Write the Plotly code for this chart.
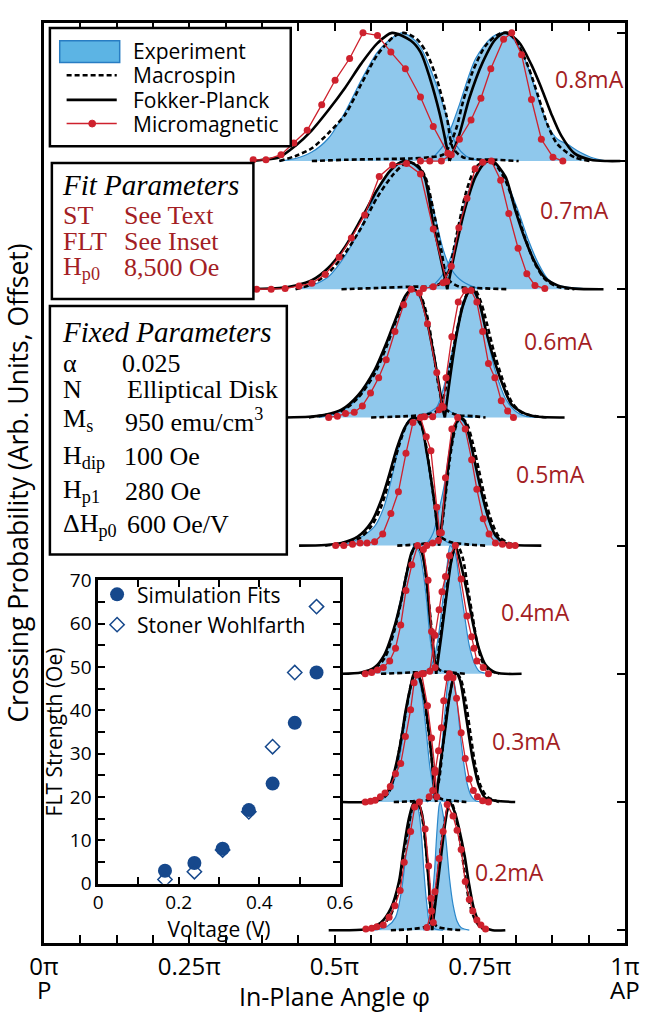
import plotly.graph_objects as go

# ---------------- DATA ----------------
currents = ["0.2mA", "0.3mA", "0.4mA", "0.5mA", "0.6mA", "0.7mA", "0.8mA"]
offsets = [0, 1, 2, 3, 4, 5, 6]

angle_ticks = [i / 16 for i in range(17)]
angle_labels = {0: "0π", 4: "0.25π", 8: "0.5π", 12: "0.75π", 16: "1π"}

# (angle in units of pi, normalized crossing probability)
# ---- 0.8 mA
exp_08_L = [(0.405,0),(0.433,0.02),(0.461,0.07),(0.490,0.18),(0.518,0.38),(0.546,0.63),(0.574,0.85),(0.602,0.97),(0.616,1.0),(0.631,0.97),(0.648,0.89),(0.664,0.73),(0.681,0.52),(0.698,0.27),(0.710,0.12),(0.726,0.04),(0.743,0.01),(0.772,0)]
exp_08_R = [(0.664,0),(0.687,0.12),(0.704,0.30),(0.715,0.44),(0.743,0.80),(0.772,0.97),(0.794,1.0),(0.817,0.90),(0.834,0.72),(0.851,0.48),(0.867,0.28),(0.884,0.17),(0.901,0.13),(0.918,0.08),(0.941,0.03),(0.969,0)]
ms_08_L = [(0.405,0),(0.433,0.04),(0.461,0.10),(0.490,0.22),(0.518,0.36),(0.546,0.60),(0.574,0.83),(0.602,0.97),(0.619,1.0),(0.642,0.95),(0.659,0.84),(0.676,0.64),(0.693,0.35),(0.704,0.10),(0.721,0.03),(0.743,0.015),(0.777,0.01),(0.817,0)]
ms_08_R = [(0.461,0),(0.518,0.01),(0.574,0.015),(0.631,0.02),(0.664,0.03),(0.687,0.05),(0.698,0.12),(0.710,0.26),(0.721,0.46),(0.738,0.70),(0.760,0.90),(0.783,0.99),(0.800,1.0),(0.817,0.90),(0.834,0.73),(0.851,0.50),(0.867,0.28),(0.884,0.13),(0.913,0.03),(0.941,0)]
fp_08_L = [(0.360,0),(0.377,0.01),(0.405,0.03),(0.433,0.12),(0.461,0.24),(0.490,0.40),(0.518,0.57),(0.546,0.76),(0.574,0.92),(0.599,1.0),(0.631,0.94),(0.648,0.85),(0.664,0.65),(0.681,0.37),(0.698,0.0)]
fp_08_R = [(0.698,0),(0.715,0.21),(0.732,0.49),(0.755,0.77),(0.777,0.95),(0.794,1.0),(0.817,0.93),(0.839,0.75),(0.856,0.57),(0.873,0.37),(0.890,0.20),(0.913,0.06),(0.941,0.01),(0.969,0),(0.992,0)]
mm_08_L = [(0.360,0.01),(0.382,0.01),(0.408,0.05),(0.430,0.14),(0.453,0.24),(0.478,0.44),(0.501,0.63),(0.526,0.80),(0.549,1.0),(0.574,0.98),(0.597,0.85),(0.622,0.72),(0.648,0.50),(0.670,0.27),(0.695,0.06)]
mm_08_R = [(0.648,0.0),(0.664,0.0),(0.684,0.0),(0.701,0.05),(0.715,0.17),(0.735,0.32),(0.752,0.49),(0.769,0.72),(0.791,0.95),(0.805,1.0),(0.822,0.83),(0.839,0.48),(0.856,0.17),(0.876,0.03),(0.893,0.0)]

# ---- 0.7 mA
exp_07_L = [(0.433,0),(0.461,0.03),(0.490,0.10),(0.518,0.26),(0.546,0.49),(0.574,0.77),(0.591,0.90),(0.608,0.98),(0.625,1.0),(0.642,0.95),(0.659,0.82),(0.673,0.57),(0.687,0.31),(0.698,0.18),(0.715,0.08),(0.738,0.02),(0.755,0)]
exp_07_R = [(0.664,0),(0.687,0.12),(0.704,0.30),(0.721,0.62),(0.738,0.85),(0.755,0.98),(0.766,1.0),(0.783,0.95),(0.800,0.80),(0.817,0.60),(0.834,0.38),(0.851,0.20),(0.867,0.08),(0.884,0.03),(0.913,0.01),(0.941,0)]
ms_07_L = [(0.433,0),(0.461,0.04),(0.490,0.13),(0.518,0.28),(0.546,0.48),(0.574,0.72),(0.602,0.90),(0.625,0.99),(0.642,0.97),(0.656,0.88),(0.670,0.62),(0.684,0.30),(0.695,0.08),(0.715,0.02),(0.743,0.01),(0.800,0)]
ms_07_R = [(0.512,0),(0.574,0.01),(0.631,0.02),(0.676,0.03),(0.693,0.10),(0.710,0.42),(0.726,0.75),(0.743,0.95),(0.760,1.0),(0.777,0.97),(0.794,0.85),(0.811,0.64),(0.828,0.40),(0.845,0.20),(0.862,0.08),(0.884,0.02),(0.913,0)]
fp_07_L = [(0.349,0),(0.405,0.01),(0.433,0.03),(0.461,0.07),(0.490,0.17),(0.518,0.33),(0.546,0.55),(0.574,0.78),(0.597,0.93),(0.619,1.0),(0.636,0.98),(0.653,0.90),(0.670,0.51),(0.687,0.15),(0.694,0)]
fp_07_R = [(0.694,0),(0.710,0.35),(0.726,0.65),(0.743,0.88),(0.760,0.99),(0.772,1.0),(0.794,0.88),(0.811,0.62),(0.828,0.39),(0.845,0.21),(0.862,0.09),(0.884,0.03),(0.913,0.005),(0.963,0)]
mm_07_L = [(0.366,0),(0.391,0),(0.415,0.005),(0.439,0.026),(0.461,0.046),(0.484,0.116),(0.508,0.25),(0.529,0.40),(0.552,0.58),(0.577,0.88),(0.600,0.97),(0.624,0.98),(0.648,0.90),(0.670,0.47),(0.693,0.06)]
mm_07_R = [(0.653,0.005),(0.670,0.02),(0.687,0.05),(0.701,0.18),(0.714,0.48),(0.728,0.71),(0.742,0.94),(0.755,0.99),(0.770,1.0),(0.786,0.85),(0.800,0.59),(0.816,0.32),(0.831,0.12),(0.845,0.03),(0.862,0.005)]

# ---- 0.6 mA
exp_06_L = [(0.473,0),(0.501,0.03),(0.523,0.08),(0.546,0.18),(0.569,0.35),(0.585,0.52),(0.602,0.72),(0.619,0.90),(0.631,1.0),(0.642,0.97),(0.653,0.86),(0.664,0.66),(0.676,0.38),(0.684,0.15),(0.693,0.07),(0.710,0.02),(0.738,0)]
exp_06_R = [(0.648,0),(0.659,0.03),(0.676,0.08),(0.687,0.22),(0.698,0.42),(0.710,0.68),(0.721,0.90),(0.732,1.0),(0.743,0.95),(0.755,0.78),(0.766,0.56),(0.777,0.36),(0.794,0.15),(0.811,0.05),(0.828,0.01),(0.851,0)]
ms_06_L = [(0.456,0),(0.512,0.05),(0.540,0.15),(0.569,0.34),(0.591,0.57),(0.608,0.78),(0.625,0.96),(0.636,1.0),(0.648,0.95),(0.659,0.80),(0.670,0.52),(0.681,0.20),(0.690,0.07),(0.710,0.02),(0.738,0.01),(0.760,0)]
ms_06_R = [(0.563,0),(0.625,0.01),(0.653,0.02),(0.676,0.05),(0.687,0.15),(0.698,0.38),(0.710,0.66),(0.721,0.88),(0.732,0.99),(0.741,1.0),(0.752,0.90),(0.763,0.72),(0.774,0.52),(0.789,0.30),(0.805,0.12),(0.822,0.04),(0.845,0.01),(0.868,0)]
fp_06_L = [(0.416,0),(0.456,0.005),(0.484,0.02),(0.512,0.06),(0.540,0.17),(0.569,0.37),(0.591,0.60),(0.608,0.80),(0.622,0.95),(0.633,1.0),(0.645,0.97),(0.656,0.82),(0.667,0.58),(0.679,0.28),(0.687,0.05),(0.690,0)]
fp_06_R = [(0.690,0),(0.698,0.28),(0.710,0.64),(0.721,0.87),(0.732,0.99),(0.738,1.0),(0.749,0.90),(0.760,0.69),(0.772,0.49),(0.789,0.26),(0.805,0.10),(0.828,0.03),(0.851,0.005),(0.896,0)]
mm_06_L = [(0.490,0.0),(0.505,0.01),(0.519,0.03),(0.534,0.04),(0.548,0.09),(0.562,0.19),(0.576,0.31),(0.589,0.45),(0.604,0.67),(0.619,0.88),(0.632,1.0),(0.646,0.97),(0.660,0.73),(0.676,0.35),(0.685,0.09)]
mm_06_R = [(0.655,0.005),(0.669,0.005),(0.680,0.06),(0.687,0.08),(0.692,0.31),(0.702,0.63),(0.713,0.90),(0.725,0.99),(0.735,0.99),(0.745,0.90),(0.755,0.67),(0.765,0.42),(0.776,0.31),(0.787,0.13),(0.798,0.05),(0.808,0.0)]

# ---- 0.5 mA
exp_05_L = [(0.512,0),(0.540,0.05),(0.569,0.15),(0.585,0.30),(0.597,0.50),(0.608,0.72),(0.619,0.90),(0.628,0.98),(0.636,1.0),(0.648,0.96),(0.656,0.80),(0.664,0.55),(0.673,0.30),(0.681,0.10),(0.693,0.03),(0.715,0)]
exp_05_R = [(0.648,0),(0.659,0.02),(0.670,0.10),(0.681,0.30),(0.690,0.50),(0.698,0.75),(0.707,0.93),(0.713,1.0),(0.724,0.95),(0.735,0.78),(0.746,0.55),(0.757,0.33),(0.769,0.15),(0.780,0.05),(0.794,0.01),(0.817,0)]
ms_05_L = [(0.484,0),(0.540,0.05),(0.563,0.15),(0.580,0.30),(0.597,0.55),(0.611,0.78),(0.625,0.95),(0.637,1.0),(0.650,0.93),(0.662,0.65),(0.673,0.30),(0.681,0.08),(0.698,0.03),(0.727,0.01),(0.760,0)]
ms_05_R = [(0.608,0),(0.642,0.01),(0.670,0.03),(0.681,0.08),(0.690,0.35),(0.698,0.66),(0.707,0.90),(0.716,1.0),(0.727,0.96),(0.738,0.80),(0.749,0.58),(0.760,0.35),(0.772,0.17),(0.783,0.07),(0.800,0.02),(0.817,0)]
fp_05_L = [(0.439,0),(0.484,0.005),(0.512,0.02),(0.540,0.07),(0.563,0.18),(0.580,0.35),(0.594,0.55),(0.608,0.77),(0.622,0.93),(0.636,1.0),(0.648,0.96),(0.659,0.72),(0.670,0.40),(0.679,0.05),(0.680,0)]
fp_05_R = [(0.680,0),(0.690,0.38),(0.698,0.70),(0.707,0.92),(0.715,1.0),(0.724,0.97),(0.732,0.85),(0.743,0.62),(0.755,0.38),(0.766,0.20),(0.777,0.08),(0.794,0.02),(0.811,0.005),(0.856,0)]
mm_05_L = [(0.502,0),(0.516,0),(0.531,0.01),(0.544,0.02),(0.556,0.02),(0.569,0.03),(0.583,0.09),(0.597,0.25),(0.610,0.42),(0.623,0.72),(0.635,0.96),(0.648,1.0),(0.658,0.85),(0.666,0.74),(0.676,0.30),(0.681,0.10)]
mm_05_R = [(0.659,0.0),(0.669,0.02),(0.679,0.04),(0.684,0.10),(0.691,0.53),(0.702,0.91),(0.712,1.0),(0.725,0.91),(0.736,0.67),(0.745,0.44),(0.756,0.21),(0.766,0.09),(0.777,0.02),(0.789,0.01),(0.801,0.0),(0.811,0.0)]

# ---- 0.4 mA
exp_04_L = [(0.546,0),(0.569,0.05),(0.586,0.15),(0.600,0.32),(0.611,0.52),(0.622,0.75),(0.631,0.92),(0.637,1.0),(0.646,0.95),(0.653,0.78),(0.659,0.55),(0.664,0.30),(0.670,0.12),(0.679,0.04),(0.693,0.01),(0.715,0)]
exp_04_R = [(0.650,0),(0.659,0.02),(0.670,0.10),(0.679,0.30),(0.687,0.60),(0.694,0.85),(0.699,1.0),(0.707,0.95),(0.715,0.72),(0.724,0.45),(0.732,0.22),(0.741,0.08),(0.749,0.02),(0.766,0)]
ms_04_L = [(0.546,0),(0.569,0.04),(0.586,0.12),(0.602,0.32),(0.614,0.55),(0.625,0.80),(0.635,0.96),(0.643,1.0),(0.652,0.93),(0.659,0.70),(0.666,0.40),(0.673,0.10),(0.681,0.03),(0.704,0.01),(0.727,0)]
ms_04_R = [(0.580,0),(0.631,0.01),(0.659,0.02),(0.673,0.05),(0.681,0.25),(0.690,0.55),(0.698,0.82),(0.707,0.98),(0.712,1.0),(0.721,0.90),(0.729,0.68),(0.738,0.44),(0.746,0.23),(0.755,0.09),(0.766,0.03),(0.783,0)]
fp_04_L = [(0.512,0),(0.546,0.01),(0.569,0.05),(0.586,0.15),(0.602,0.35),(0.614,0.56),(0.625,0.80),(0.633,0.95),(0.642,1.0),(0.650,0.95),(0.658,0.75),(0.664,0.45),(0.670,0.20),(0.675,0)]
fp_04_R = [(0.675,0),(0.684,0.30),(0.693,0.62),(0.701,0.88),(0.708,1.0),(0.715,0.90),(0.727,0.66),(0.738,0.40),(0.749,0.19),(0.760,0.07),(0.777,0.01),(0.822,0)]
mm_04_L = [(0.553,0),(0.564,0.01),(0.574,0.03),(0.584,0.05),(0.595,0.10),(0.605,0.20),(0.614,0.38),(0.623,0.65),(0.633,0.85),(0.643,1.0),(0.653,0.97),(0.661,0.73),(0.667,0.33),(0.673,0.05)]
mm_04_R = [(0.653,0.0),(0.664,0.02),(0.673,0.30),(0.680,0.50),(0.685,0.64),(0.691,0.76),(0.698,0.92),(0.708,1.0),(0.718,0.74),(0.728,0.45),(0.736,0.29),(0.740,0.20),(0.745,0.10),(0.756,0.05),(0.765,0.0)]

# ---- 0.3 mA
exp_03_L = [(0.569,0),(0.591,0.05),(0.605,0.20),(0.614,0.40),(0.622,0.65),(0.629,0.87),(0.635,0.98),(0.640,1.0),(0.647,0.93),(0.653,0.75),(0.659,0.50),(0.664,0.28),(0.670,0.12),(0.676,0.04),(0.687,0.01),(0.704,0)]
exp_03_R = [(0.659,0),(0.670,0.05),(0.679,0.20),(0.685,0.45),(0.691,0.75),(0.695,0.93),(0.699,1.0),(0.705,0.95),(0.711,0.78),(0.716,0.55),(0.722,0.32),(0.728,0.15),(0.735,0.05),(0.743,0.01),(0.755,0)]
ms_03_L = [(0.546,0),(0.580,0.02),(0.594,0.08),(0.605,0.25),(0.615,0.50),(0.624,0.73),(0.632,0.92),(0.639,1.0),(0.646,0.97),(0.654,0.82),(0.661,0.58),(0.667,0.35),(0.673,0.10),(0.681,0.03),(0.704,0.01),(0.727,0)]
ms_03_R = [(0.602,0),(0.647,0.01),(0.670,0.03),(0.679,0.15),(0.687,0.45),(0.695,0.75),(0.704,0.95),(0.711,1.0),(0.718,0.95),(0.727,0.75),(0.735,0.50),(0.743,0.27),(0.752,0.12),(0.763,0.04),(0.783,0)]
fp_03_L = [(0.512,0),(0.569,0.01),(0.591,0.08),(0.602,0.22),(0.614,0.47),(0.622,0.70),(0.631,0.90),(0.637,1.0),(0.645,0.98),(0.653,0.85),(0.661,0.60),(0.667,0.35),(0.673,0.05),(0.675,0)]
fp_03_R = [(0.675,0),(0.681,0.25),(0.690,0.55),(0.698,0.82),(0.705,0.97),(0.710,1.0),(0.716,0.95),(0.727,0.65),(0.738,0.33),(0.749,0.12),(0.760,0.03),(0.777,0.01),(0.811,0)]
mm_03_L = [(0.553,0),(0.562,0.005),(0.570,0.013),(0.579,0.04),(0.587,0.07),(0.596,0.12),(0.605,0.22),(0.614,0.30),(0.622,0.51),(0.631,0.72),(0.637,0.93),(0.642,0.99),(0.650,1.0),(0.660,0.75),(0.667,0.50),(0.673,0.25),(0.676,0.04)]
mm_03_R = [(0.663,0.04),(0.669,0.09),(0.673,0.23),(0.679,0.40),(0.684,0.58),(0.688,0.79),(0.694,0.97),(0.698,1.0),(0.704,0.97),(0.710,0.81),(0.718,0.54),(0.725,0.34),(0.732,0.18),(0.739,0.09),(0.746,0.04),(0.755,0.01),(0.765,0.0)]

# ---- 0.2 mA
exp_02_L = [(0.569,0),(0.591,0.03),(0.605,0.10),(0.615,0.30),(0.622,0.55),(0.629,0.80),(0.635,0.95),(0.641,1.0),(0.646,0.90),(0.650,0.72),(0.654,0.45),(0.659,0.20),(0.664,0.05),(0.673,0.01),(0.687,0)]
exp_02_R = [(0.653,0),(0.662,0.05),(0.667,0.20),(0.672,0.45),(0.676,0.75),(0.680,0.97),(0.682,1.0),(0.687,0.90),(0.693,0.65),(0.698,0.40),(0.704,0.20),(0.711,0.07),(0.718,0.02),(0.732,0)]
ms_02_L = [(0.552,0),(0.580,0.03),(0.597,0.12),(0.611,0.35),(0.620,0.62),(0.629,0.85),(0.636,0.98),(0.643,1.0),(0.650,0.90),(0.657,0.66),(0.663,0.35),(0.667,0.10),(0.676,0.03),(0.693,0.01),(0.721,0)]
ms_02_R = [(0.597,0),(0.636,0.01),(0.659,0.03),(0.668,0.08),(0.675,0.30),(0.682,0.60),(0.690,0.85),(0.697,0.98),(0.701,1.0),(0.708,0.90),(0.716,0.70),(0.724,0.45),(0.732,0.22),(0.741,0.09),(0.752,0.02),(0.766,0)]
fp_02_L = [(0.490,0),(0.552,0.005),(0.563,0.02),(0.580,0.06),(0.597,0.17),(0.611,0.38),(0.619,0.63),(0.628,0.87),(0.636,0.99),(0.642,1.0),(0.650,0.92),(0.656,0.71),(0.662,0.38),(0.666,0.12),(0.668,0)]
fp_02_R = [(0.668,0),(0.676,0.30),(0.684,0.60),(0.691,0.85),(0.698,1.0),(0.707,0.92),(0.715,0.78),(0.724,0.58),(0.732,0.35),(0.741,0.15),(0.752,0.04),(0.772,0),(0.794,0)]
mm_02_L = [(0.554,0.01),(0.564,0.015),(0.573,0.026),(0.584,0.04),(0.594,0.10),(0.604,0.19),(0.613,0.31),(0.620,0.53),(0.631,0.77),(0.638,0.96),(0.646,1.0),(0.656,0.79),(0.662,0.50),(0.666,0.25),(0.670,0.06)]
mm_02_R = [(0.659,0.02),(0.667,0.15),(0.673,0.30),(0.680,0.56),(0.687,0.77),(0.694,0.98),(0.704,0.89),(0.711,0.78),(0.718,0.63),(0.725,0.38),(0.732,0.24),(0.738,0.15),(0.745,0.08),(0.752,0.04),(0.760,0.01)]

# ---- inset: FLT strength vs voltage
voltage = [0.166, 0.239, 0.309, 0.374, 0.433, 0.488, 0.542]
flt_sim = [3.0, 4.8, 8.1, 17.0, 23.1, 37.1, 48.7]
flt_sw = [1.0, 2.8, 7.8, 16.6, 31.6, 48.7, 63.9]
inset_xticks = [0, 0.1, 0.2, 0.3, 0.4, 0.5, 0.6]
inset_yticks = list(range(0, 75, 5))

fit_rows = [("ST", "See Text"), ("FLT", "See Inset"), ("H<sub>p0</sub>", "8,500 Oe")]
fixed_rows = [("α", "0.025"), ("N", "Elliptical Disk"), ("M<sub>s</sub>", "950 emu/cm<sup>3</sup>"),
              ("H<sub>dip</sub>", "100 Oe"), ("H<sub>p1</sub>", "280 Oe"), ("ΔH<sub>p0</sub>", "600 Oe/V")]

levels = {
    "0.2mA": (exp_02_L, exp_02_R, ms_02_L, ms_02_R, fp_02_L, fp_02_R, mm_02_L, mm_02_R),
    "0.3mA": (exp_03_L, exp_03_R, ms_03_L, ms_03_R, fp_03_L, fp_03_R, mm_03_L, mm_03_R),
    "0.4mA": (exp_04_L, exp_04_R, ms_04_L, ms_04_R, fp_04_L, fp_04_R, mm_04_L, mm_04_R),
    "0.5mA": (exp_05_L, exp_05_R, ms_05_L, ms_05_R, fp_05_L, fp_05_R, mm_05_L, mm_05_R),
    "0.6mA": (exp_06_L, exp_06_R, ms_06_L, ms_06_R, fp_06_L, fp_06_R, mm_06_L, mm_06_R),
    "0.7mA": (exp_07_L, exp_07_R, ms_07_L, ms_07_R, fp_07_L, fp_07_R, mm_07_L, mm_07_R),
    "0.8mA": (exp_08_L, exp_08_R, ms_08_L, ms_08_R, fp_08_L, fp_08_R, mm_08_L, mm_08_R),
}

# ---------------- STYLE / LAYOUT HELPERS ----------------
W, H = 650, 1013
ML, MR, MT, MB = 44, 15, 10, 70
PW, PH = W - ML - MR, H - MT - MB
Y_RANGE = [-0.1, 7.077]


def px(x):
    return (x - ML) / PW


def py(y):
    return (H - MB - y) / PH


EXP_FILL = "rgb(143,200,236)"
EXP_LINE = "rgb(43,135,202)"
MM_RED = "rgb(206,33,45)"
TXT_RED = "rgb(163,30,36)"
NAVY = "rgb(22,72,140)"
SANS = "Open Sans, sans-serif"
SERIF = "Liberation Serif, serif"
DASH = "5px,3px"


def xs(p):
    return [a for a, _ in p]


def ys(p, off):
    return [off + b for _, b in p]


fig = go.Figure()
SPL = dict(shape="spline", smoothing=0.8)

# blue experiment fills
for cur, off in zip(currents, offsets):
    for pts in levels[cur][0:2]:
        fig.add_trace(go.Scatter(x=xs(pts), y=ys(pts, off), mode="lines", fill="toself",
                                 fillcolor=EXP_FILL, line=dict(width=0, **SPL),
                                 hoverinfo="skip", showlegend=False))
# experiment outlines
for cur, off in zip(currents, offsets):
    for pts in levels[cur][0:2]:
        fig.add_trace(go.Scatter(x=xs(pts), y=ys(pts, off), mode="lines",
                                 line=dict(color=EXP_LINE, width=1.2, **SPL),
                                 hoverinfo="skip", showlegend=False))
# macrospin (dashed)
for cur, off in zip(currents, offsets):
    for pts in levels[cur][2:4]:
        fig.add_trace(go.Scatter(x=xs(pts), y=ys(pts, off), mode="lines",
                                 line=dict(color="black", width=2.6, dash=DASH, **SPL),
                                 hoverinfo="skip", showlegend=False))
# Fokker-Planck (solid)
for cur, off in zip(currents, offsets):
    for pts in levels[cur][4:6]:
        fig.add_trace(go.Scatter(x=xs(pts), y=ys(pts, off), mode="lines",
                                 line=dict(color="black", width=2.6, **SPL),
                                 hoverinfo="skip", showlegend=False))
# micromagnetic
for cur, off in zip(currents, offsets):
    for pts in levels[cur][6:8]:
        fig.add_trace(go.Scatter(x=xs(pts), y=ys(pts, off), mode="lines+markers",
                                 line=dict(color=MM_RED, width=1.3),
                                 marker=dict(color=MM_RED, size=7),
                                 hoverinfo="skip", showlegend=False))

# invisible trace that carries the right-hand offset axis
fig.add_trace(go.Scatter(x=[None], y=[None], yaxis="y3", showlegend=False, hoverinfo="skip"))

# inset traces
fig.add_trace(go.Scatter(x=voltage, y=flt_sim, mode="markers", name="Simulation Fits",
                         marker=dict(symbol="circle", size=14, color=NAVY),
                         xaxis="x2", yaxis="y2"))
fig.add_trace(go.Scatter(x=voltage, y=flt_sw, mode="markers", name="Stoner Wohlfarth",
                         marker=dict(symbol="diamond-open", size=11, color=NAVY, line=dict(width=1.5)),
                         xaxis="x2", yaxis="y2"))

# ---------------- shapes ----------------
shapes = []
BOX = dict(type="rect", xref="paper", yref="paper", layer="above",
           line=dict(color="black", width=2.5), fillcolor="white")
shapes.append(dict(BOX, x0=px(50), x1=px(295), y0=py(135), y1=py(15)))
shapes.append(dict(BOX, x0=px(52), x1=px(257), y0=py(290), y1=py(152)))
shapes.append(dict(BOX, x0=px(50), x1=px(291), y0=py(549), y1=py(297)))
# legend symbols
shapes.append(dict(type="rect", xref="paper", yref="paper", layer="above",
                   x0=px(60), x1=px(121), y0=py(50), y1=py(28),
                   fillcolor="rgb(92,180,228)", line=dict(color="rgb(40,125,195)", width=1.5)))
shapes.append(dict(type="line", xref="paper", yref="paper", layer="above",
                   x0=px(67), x1=px(118), y0=py(63), y1=py(63),
                   line=dict(color="black", width=2.6, dash=DASH)))
shapes.append(dict(type="line", xref="paper", yref="paper", layer="above",
                   x0=px(67), x1=px(118), y0=py(88), y1=py(88),
                   line=dict(color="black", width=2.6)))
shapes.append(dict(type="line", xref="paper", yref="paper", layer="above",
                   x0=px(67), x1=px(118), y0=py(112), y1=py(112),
                   line=dict(color=MM_RED, width=1.5)))
shapes.append(dict(type="circle", xref="paper", yref="paper", layer="above",
                   x0=px(89.5), x1=px(96.5), y0=py(115.5), y1=py(108.5),
                   fillcolor=MM_RED, line=dict(color=MM_RED, width=1)))

# ---------------- annotations ----------------
ann = []


def text(x, y, t, size, color="black", family=SANS, xanchor="left", **kw):
    ann.append(dict(x=x, y=y, xref="paper", yref="paper", text=t, showarrow=False,
                    xanchor=xanchor, yanchor="middle",
                    font=dict(size=size, color=color, family=family), **kw))


# main legend texts
for t, yy in zip(["Experiment", "Macrospin", "Fokker-Planck", "Micromagnetic"], [38, 63, 88, 112]):
    text(px(132), py(yy), t, 21)

# fit parameters
text(px(60), py(174), "<i>Fit Parameters</i>", 29, family=SERIF)
for (lab, val), yy in zip(fit_rows, [205, 232, 258]):
    text(px(61), py(yy), lab, 26, color=TXT_RED, family=SERIF)
    text(px(123), py(yy), val, 26, color=TXT_RED, family=SERIF)

# fixed parameters
text(px(60), py(323), "<i>Fixed Parameters</i>", 29, family=SERIF)
for (lab, val), yy, vx in zip(fixed_rows, [355, 382, 413, 450, 485, 519], [121, 126, 124, 123, 124, 126]):
    text(px(61), py(yy), lab, 26, family=SERIF)
    text(px(vx), py(yy), val, 26, family=SERIF)

# current labels
label_pos = [(480, 871), (498, 738), (507, 607), (522, 467), (530, 333), (547, 200), (562, 67)]
for cur, (lx, ly) in zip(currents, label_pos):
    text(px(lx), py(ly), cur, 23, color=TXT_RED)

# P / AP under the angle axis
ann.append(dict(x=0, y=py(990), xref="x", yref="paper", text="P", showarrow=False,
                xanchor="center", yanchor="middle", font=dict(size=24, family=SANS, color="black")))
ann.append(dict(x=1, y=py(990), xref="x", yref="paper", text="AP", showarrow=False,
                xanchor="center", yanchor="middle", font=dict(size=24, family=SANS, color="black")))

fig.update_layout(
    width=W, height=H, margin=dict(l=ML, r=MR, t=MT, b=MB),
    paper_bgcolor="white", plot_bgcolor="white",
    font=dict(family=SANS, color="black"),
    showlegend=True,
    legend=dict(x=px(98), y=py(569), xanchor="left", yanchor="top", bgcolor="rgba(0,0,0,0)",
                font=dict(size=21), tracegroupgap=0, itemsizing="trace"),
    xaxis=dict(domain=[0, 1], range=[0, 1], tickmode="array", tickvals=angle_ticks,
               ticktext=[angle_labels.get(i, "") for i in range(17)],
               ticks="inside", ticklen=8, tickwidth=1.5, tickcolor="black",
               showline=True, linewidth=2.5, linecolor="black", mirror="ticks",
               showgrid=False, zeroline=False, tickfont=dict(size=24),
               title=dict(text="In-Plane Angle φ", font=dict(size=25), standoff=4)),
    yaxis=dict(domain=[0, 1], range=Y_RANGE, ticks="", showticklabels=False,
               showline=True, linewidth=2.5, linecolor="black", mirror=True,
               showgrid=False, zeroline=False,
               title=dict(text="Crossing Probability (Arb. Units, Offset)", font=dict(size=26.5), standoff=8)),
    yaxis3=dict(overlaying="y", side="right", anchor="x", range=Y_RANGE, tickmode="array",
                tickvals=offsets + [7], ticks="inside", ticklen=8, tickwidth=1.5, tickcolor="black",
                showticklabels=False, showline=False, showgrid=False, zeroline=False),
    xaxis2=dict(domain=[px(99), px(345)], anchor="y2", range=[0, 0.6], tickmode="array",
                tickvals=inset_xticks, ticktext=["0", "", "0.2", "", "0.4", "", "0.6"],
                ticks="inside", ticklen=7, tickwidth=1.5, tickcolor="black",
                showline=True, linewidth=2.5, linecolor="black", mirror="ticks",
                showgrid=False, zeroline=False, tickfont=dict(size=19),
                title=dict(text="Voltage (V)", font=dict(size=21), standoff=2)),
    yaxis2=dict(domain=[py(883), py(575)], anchor="x2", range=[0, 70], tickmode="array",
                tickvals=inset_yticks, ticktext=[str(v) if v % 10 == 0 else "" for v in inset_yticks],
                ticks="inside", ticklen=7, tickwidth=1.5, tickcolor="black",
                showline=True, linewidth=2.5, linecolor="black", mirror="ticks",
                showgrid=False, zeroline=False, tickfont=dict(size=19),
                title=dict(text="FLT Strength (Oe)", font=dict(size=21), standoff=2)),
    shapes=shapes, annotations=ann,
)

fig.write_html("out.html")
